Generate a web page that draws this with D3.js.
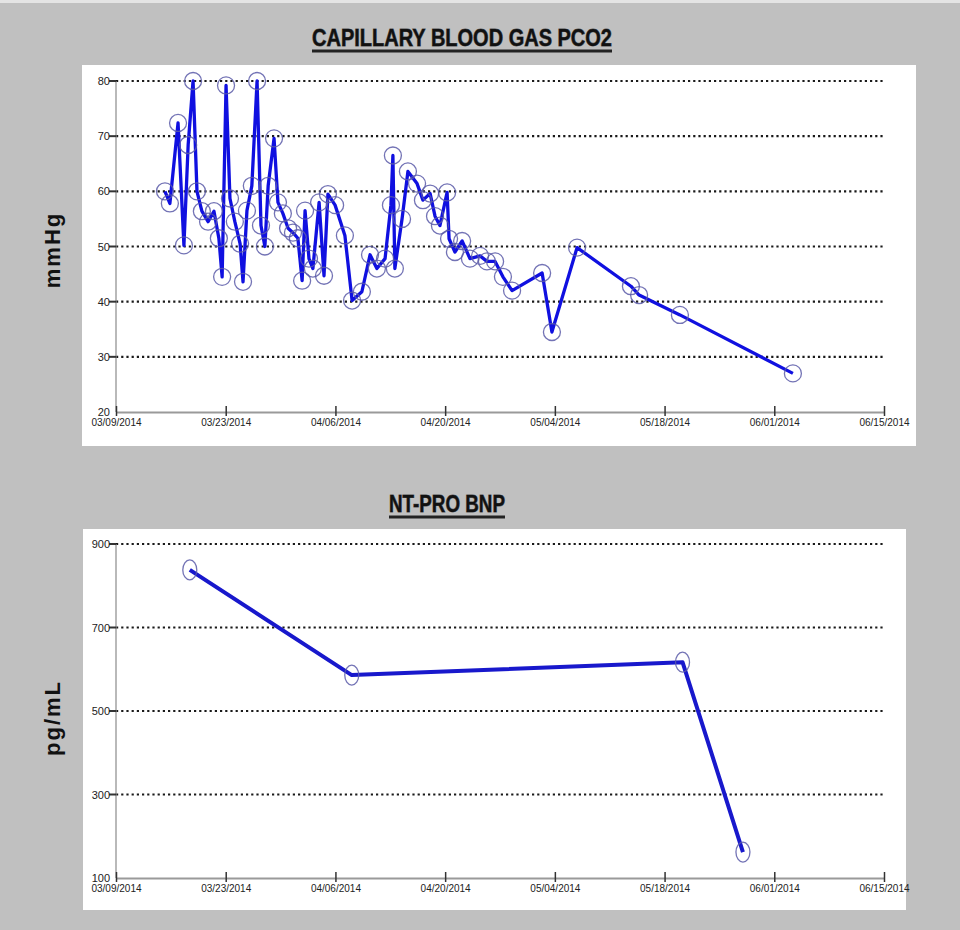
<!DOCTYPE html>
<html>
<head>
<meta charset="utf-8">
<script src="https://cdn.jsdelivr.net/npm/d3@7"></script>
<style>
  html, body { margin: 0; padding: 0; background: #c0c0c0; }
  svg { display: block; }
</style>
</head>
<body>
<div id="chart"></div>
<script>
// PCO2 readings (date/time of sample, mmHg)
const pco2Times = [
  "2014-03-15 06:00", "2014-03-15 21:00", "2014-03-16 22:00", "2014-03-17 16:00", "2014-03-18 05:00",
  "2014-03-18 20:00", "2014-03-19 08:00", "2014-03-19 23:00", "2014-03-20 18:00", "2014-03-21 12:00",
  "2014-03-22 03:00", "2014-03-22 13:00", "2014-03-23 01:00", "2014-03-23 13:00", "2014-03-24 04:00",
  "2014-03-24 20:00", "2014-03-25 05:00", "2014-03-25 17:00", "2014-03-26 08:00", "2014-03-27 00:00",
  "2014-03-27 12:00", "2014-03-28 00:00", "2014-03-28 10:00", "2014-03-29 04:00", "2014-03-29 16:00",
  "2014-03-30 07:00", "2014-03-30 23:00", "2014-03-31 14:00", "2014-04-01 05:00", "2014-04-01 18:00",
  "2014-04-02 03:00", "2014-04-02 15:00", "2014-04-03 03:00", "2014-04-03 22:00", "2014-04-04 13:00",
  "2014-04-05 01:00", "2014-04-05 23:00", "2014-04-07 05:00", "2014-04-08 03:00", "2014-04-09 09:00",
  "2014-04-10 10:00", "2014-04-11 07:00", "2014-04-12 08:00", "2014-04-13 02:00", "2014-04-13 08:00",
  "2014-04-13 14:00", "2014-04-14 12:00", "2014-04-15 06:00", "2014-04-16 10:00", "2014-04-17 04:00",
  "2014-04-18 02:00", "2014-04-18 17:00", "2014-04-19 08:00", "2014-04-20 06:00", "2014-04-20 12:00",
  "2014-04-21 06:00", "2014-04-22 04:00", "2014-04-23 04:00", "2014-04-24 11:00", "2014-04-25 08:00",
  "2014-04-26 09:00", "2014-04-27 09:00", "2014-04-28 13:00", "2014-05-02 09:00", "2014-05-03 15:00",
  "2014-05-06 20:00", "2014-05-13 17:00", "2014-05-14 18:00", "2014-05-19 23:00", "2014-06-03 09:00"
];
const pco2Values = [
  60, 57.8, 72.4, 50.2, 68.4,
  80, 60, 56.4, 54.5, 56.4,
  51.5, 44.5, 79.2, 58.7, 54.5,
  50.5, 43.6, 56.5, 61, 80,
  53.8, 50, 61, 69.6, 58,
  56, 53.3, 52.5, 51.5, 43.8,
  56.5, 47.8, 46, 58, 44.7,
  59.5, 57.5, 52, 40.2, 41.8,
  48.5, 46, 47.8, 57.5, 66.5,
  46, 55, 63.6, 61.4, 58.4,
  59.6, 55.5, 53.8, 59.8, 51.4,
  49, 51, 47.8, 48.3, 47.3,
  47.3, 44.5, 42, 45.2, 34.5,
  49.8, 42.8, 41.2, 37.6, 27
];

// NT-proBNP readings (pg/mL)
const bnpTimes = ["2014-03-18 10:00", "2014-04-08 02:00", "2014-05-20 07:00", "2014-05-28 00:00"];
const bnpValues = [838, 586, 617, 162];

// Axis ticks
const xTickDates = ["2014-03-09", "2014-03-23", "2014-04-06", "2014-04-20", "2014-05-04", "2014-05-18", "2014-06-01", "2014-06-15"];
const pco2Ticks = [20, 30, 40, 50, 60, 70, 80];
const bnpTicks = [100, 300, 500, 700, 900];

const parseTime = d3.timeParse("%Y-%m-%d %H:%M");
const parseDay = d3.timeParse("%Y-%m-%d");
const fmtTick = d3.timeFormat("%m/%d/%Y");

const W = 960, H = 930;
const narrow = '"Liberation Sans Narrow", "Arial Narrow", "Liberation Sans", Arial, sans-serif';

const svg = d3.select('#chart').append('svg')
    .attr('width', W)
    .attr('height', H);

svg.append('rect').attr('width', W).attr('height', H).attr('fill', '#c0c0c0');
svg.append('rect').attr('width', W).attr('height', 3).attr('fill', '#e4e4e4');

const tickDates = xTickDates.map(parseDay);

function drawPanel(cfg) {
    const x = d3.scaleTime()
        .domain([tickDates[0], tickDates[tickDates.length - 1]])
        .range([116, 884]);
    const y = d3.scaleLinear()
        .domain(cfg.domain)
        .range(cfg.yRange);

    // white plot panel
    svg.append('rect')
        .attr('x', cfg.panel[0]).attr('y', cfg.panel[1])
        .attr('width', cfg.panel[2]).attr('height', cfg.panel[3])
        .attr('fill', '#ffffff');

    // title, underlined
    svg.append('text')
        .attr('x', cfg.titleX)
        .attr('y', cfg.titleY)
        .attr('text-anchor', 'middle')
        .attr('textLength', cfg.titleW)
        .attr('lengthAdjust', 'spacingAndGlyphs')
        .style('font-family', narrow)
        .style('font-size', '23px')
        .style('font-weight', '700')
        .style('fill', '#111')
        .style('paint-order', 'stroke')
        .style('stroke', '#555')
        .style('stroke-width', '0.8px')
        .text(cfg.title);
    svg.append('line')
        .attr('x1', cfg.titleX - cfg.titleW / 2).attr('x2', cfg.titleX + cfg.titleW / 2)
        .attr('y1', cfg.titleY + 5).attr('y2', cfg.titleY + 5)
        .attr('stroke', '#222').attr('stroke-width', 3);

    // y label
    svg.append('text')
        .attr('transform', `translate(60,${cfg.yLabelY}) rotate(-90)`)
        .attr('text-anchor', 'middle')
        .style('font-family', 'Arial, "Liberation Sans", sans-serif')
        .style('font-size', '22px')
        .style('font-weight', '700')
        .style('letter-spacing', '2px')
        .style('fill', '#111')
        .text(cfg.yLabel);

    const g = svg.append('g');

    // dotted grid lines
    const gridVals = cfg.ticks.filter(v => v !== cfg.domain[0]);
    g.selectAll('.grid')
        .data(gridVals)
        .enter()
        .append('line')
        .attr('x1', 116).attr('x2', 884)
        .attr('y1', d => y(d)).attr('y2', d => y(d))
        .attr('stroke', '#1a1a1a')
        .attr('stroke-width', 2.2)
        .attr('stroke-dasharray', '2.2,3');

    // y axis line
    g.append('line')
        .attr('x1', 116).attr('x2', 116)
        .attr('y1', y(cfg.domain[1])).attr('y2', y(cfg.domain[0]))
        .attr('stroke', '#8a8a8a').attr('stroke-width', 1.2);

    // y tick marks + labels
    g.selectAll('.ytick')
        .data(gridVals)
        .enter()
        .append('line')
        .attr('x1', 109).attr('x2', 116)
        .attr('y1', d => y(d)).attr('y2', d => y(d))
        .attr('stroke', '#333').attr('stroke-width', 2);
    g.selectAll('.ylab')
        .data(cfg.ticks)
        .enter()
        .append('text')
        .attr('x', 110)
        .attr('y', d => y(d) + 4)
        .attr('text-anchor', 'end')
        .style('font-family', narrow)
        .style('font-size', '11px')
        .style('fill', '#222')
        .text(d => d);

    // x axis
    const xAxis = d3.axisBottom(x)
        .tickValues(tickDates)
        .tickSize(0)
        .tickPadding(0)
        .tickFormat(fmtTick);
    const ax = g.append('g')
        .attr('transform', `translate(0,${cfg.yRange[0]})`)
        .call(xAxis);
    ax.select('.domain')
        .attr('stroke', '#9a9a9a')
        .attr('stroke-width', 2);
    ax.selectAll('.tick line')
        .attr('y1', -6).attr('y2', 4)
        .attr('stroke', '#333')
        .attr('stroke-width', 1.5);
    ax.selectAll('.tick text')
        .attr('y', 14)
        .attr('dy', 0)
        .style('font-family', narrow)
        .style('font-size', '10px')
        .style('fill', '#222');

    // series line
    const pts = cfg.times.map((t, i) => ({ t: parseTime(t), v: cfg.values[i] }));
    const line = d3.line()
        .x(d => x(d.t))
        .y(d => y(d.v));
    g.append('path')
        .datum(pts)
        .attr('d', line)
        .attr('fill', 'none')
        .attr('stroke', cfg.lineColor)
        .attr('stroke-width', cfg.lineWidth)
        .attr('stroke-linejoin', 'round');

    // open markers
    g.selectAll('.mark')
        .data(pts)
        .enter()
        .append('ellipse')
        .attr('cx', d => x(d.t))
        .attr('cy', d => y(d.v))
        .attr('rx', cfg.rx)
        .attr('ry', cfg.ry)
        .attr('fill', 'none')
        .attr('stroke', '#5a5aa8')
        .attr('stroke-opacity', 0.85)
        .attr('stroke-width', 1.3);
}

drawPanel({
    panel: [82, 65, 834, 381],
    title: 'CAPILLARY BLOOD GAS PCO2',
    titleX: 462, titleY: 46, titleW: 300,
    yLabel: 'mmHg', yLabelY: 250,
    domain: [20, 80], yRange: [412, 81],
    ticks: pco2Ticks,
    times: pco2Times, values: pco2Values,
    lineColor: '#1010e0', lineWidth: 3.3,
    rx: 8.5, ry: 8.5
});

drawPanel({
    panel: [83, 529, 823, 381],
    title: 'NT-PRO BNP',
    titleX: 447, titleY: 512, titleW: 116,
    yLabel: 'pg/mL', yLabelY: 718,
    domain: [100, 900], yRange: [878, 544],
    ticks: bnpTicks,
    times: bnpTimes, values: bnpValues,
    lineColor: '#1818cc', lineWidth: 4,
    rx: 7, ry: 10
});
</script>
</body>
</html>
